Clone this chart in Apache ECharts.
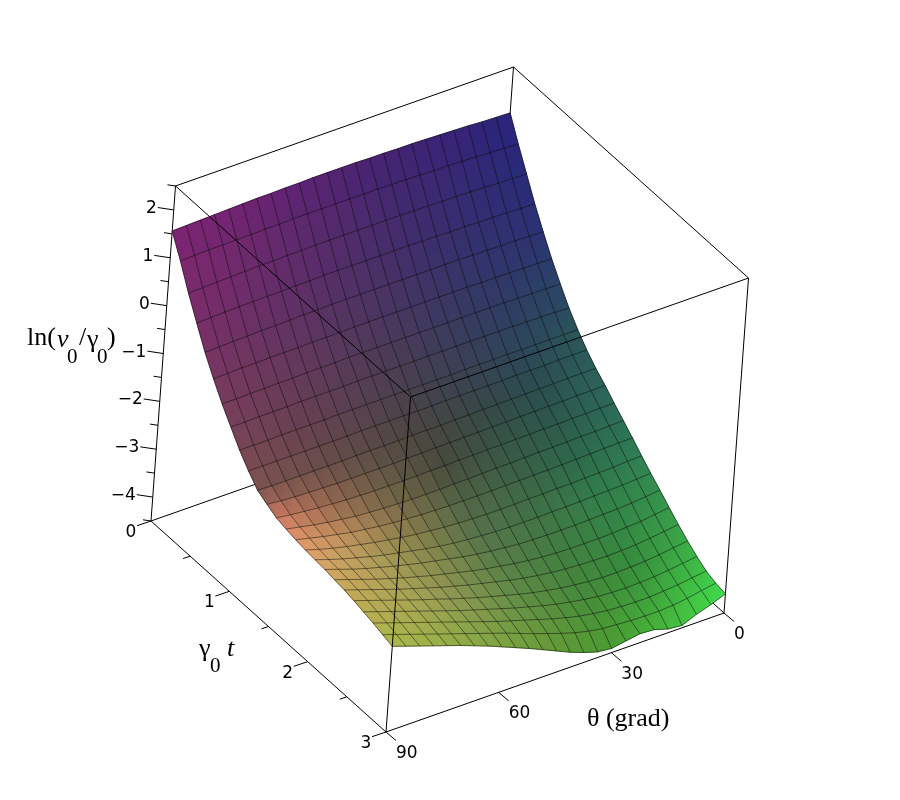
<!DOCTYPE html>
<html>
<head>
<meta charset="utf-8">
<title>ln(v0/gamma0) surface</title>
<script src="https://cdn.jsdelivr.net/npm/echarts@6/dist/echarts.min.js"></script>
<style>
  html, body { margin: 0; padding: 0; background: #fff; }
  #chart { width: 900px; height: 800px; }
</style>
</head>
<body>
<div id="chart"></div>
<script>
// grid of the surface
const tValues = [0, 0.125, 0.25, 0.375, 0.5, 0.625, 0.75, 0.875, 1, 1.125, 1.25, 1.375, 1.5, 1.625, 1.75, 1.875, 2, 2.125, 2.25, 2.375, 2.5, 2.625, 2.75, 2.875, 3];
const thetaValues = [90, 86.25, 82.5, 78.75, 75, 71.25, 67.5, 63.75, 60, 56.25, 52.5, 48.75, 45, 41.25, 37.5, 33.75, 30, 26.25, 22.5, 18.75, 15, 11.25, 7.5, 3.75, 0];

// ln(v0/gamma0): one row per t, one column per theta
const lnRatio = [
  [1.56, 1.57, 1.58, 1.59, 1.60, 1.61, 1.62, 1.62, 1.63, 1.63, 1.64, 1.64, 1.64, 1.64, 1.63, 1.63, 1.62, 1.62, 1.61, 1.60, 1.59, 1.58, 1.56, 1.55, 1.54],
  [1.12, 1.13, 1.14, 1.14, 1.15, 1.15, 1.16, 1.16, 1.17, 1.17, 1.17, 1.17, 1.17, 1.17, 1.17, 1.16, 1.16, 1.15, 1.14, 1.14, 1.13, 1.12, 1.10, 1.09, 1.07],
  [0.63, 0.64, 0.65, 0.66, 0.67, 0.68, 0.68, 0.69, 0.69, 0.70, 0.70, 0.70, 0.70, 0.70, 0.70, 0.70, 0.69, 0.69, 0.68, 0.68, 0.67, 0.66, 0.65, 0.64, 0.63],
  [0.19, 0.20, 0.21, 0.22, 0.22, 0.23, 0.23, 0.24, 0.24, 0.25, 0.25, 0.25, 0.25, 0.25, 0.25, 0.25, 0.24, 0.24, 0.23, 0.23, 0.22, 0.22, 0.21, 0.20, 0.19],
  [-0.24, -0.23, -0.22, -0.21, -0.20, -0.20, -0.19, -0.18, -0.18, -0.17, -0.17, -0.17, -0.17, -0.17, -0.17, -0.17, -0.17, -0.17, -0.17, -0.18, -0.18, -0.19, -0.19, -0.20, -0.21],
  [-0.61, -0.60, -0.59, -0.59, -0.58, -0.58, -0.58, -0.57, -0.57, -0.57, -0.56, -0.56, -0.56, -0.56, -0.56, -0.56, -0.56, -0.56, -0.56, -0.57, -0.57, -0.57, -0.58, -0.58, -0.59],
  [-0.95, -0.95, -0.94, -0.94, -0.93, -0.93, -0.92, -0.92, -0.92, -0.91, -0.91, -0.91, -0.91, -0.91, -0.91, -0.91, -0.91, -0.91, -0.91, -0.91, -0.91, -0.92, -0.92, -0.93, -0.93],
  [-1.25, -1.25, -1.24, -1.24, -1.24, -1.23, -1.23, -1.23, -1.23, -1.22, -1.22, -1.22, -1.22, -1.22, -1.22, -1.22, -1.22, -1.22, -1.22, -1.22, -1.22, -1.23, -1.23, -1.24, -1.25],
  [-1.55, -1.55, -1.55, -1.54, -1.54, -1.54, -1.54, -1.53, -1.53, -1.53, -1.53, -1.53, -1.53, -1.53, -1.53, -1.53, -1.52, -1.52, -1.52, -1.52, -1.52, -1.52, -1.52, -1.52, -1.52],
  [-1.80, -1.80, -1.80, -1.80, -1.80, -1.80, -1.80, -1.80, -1.79, -1.79, -1.79, -1.79, -1.79, -1.79, -1.78, -1.78, -1.78, -1.78, -1.78, -1.77, -1.77, -1.77, -1.76, -1.76, -1.76],
  [-2.02, -2.03, -2.03, -2.03, -2.03, -2.03, -2.03, -2.02, -2.02, -2.02, -2.02, -2.01, -2.01, -2.01, -2.00, -2.00, -1.99, -1.99, -1.98, -1.98, -1.97, -1.97, -1.96, -1.96, -1.96],
  [-2.13, -2.16, -2.18, -2.19, -2.20, -2.21, -2.21, -2.21, -2.21, -2.21, -2.20, -2.20, -2.19, -2.19, -2.18, -2.18, -2.17, -2.17, -2.16, -2.16, -2.15, -2.15, -2.14, -2.14, -2.13],
  [-2.23, -2.27, -2.30, -2.33, -2.35, -2.37, -2.38, -2.39, -2.39, -2.39, -2.39, -2.38, -2.38, -2.37, -2.37, -2.36, -2.36, -2.35, -2.35, -2.34, -2.34, -2.33, -2.33, -2.32, -2.32],
  [-2.28, -2.34, -2.40, -2.45, -2.49, -2.53, -2.55, -2.57, -2.58, -2.59, -2.59, -2.59, -2.58, -2.58, -2.57, -2.56, -2.56, -2.55, -2.54, -2.54, -2.53, -2.52, -2.52, -2.51, -2.50],
  [-2.32, -2.39, -2.46, -2.52, -2.58, -2.62, -2.66, -2.69, -2.71, -2.73, -2.74, -2.75, -2.75, -2.75, -2.75, -2.74, -2.74, -2.73, -2.73, -2.72, -2.71, -2.70, -2.69, -2.68, -2.68],
  [-2.35, -2.44, -2.52, -2.59, -2.65, -2.71, -2.76, -2.81, -2.85, -2.88, -2.91, -2.93, -2.94, -2.95, -2.95, -2.95, -2.94, -2.94, -2.93, -2.93, -2.92, -2.91, -2.90, -2.88, -2.87],
  [-2.37, -2.47, -2.56, -2.64, -2.72, -2.79, -2.85, -2.91, -2.97, -3.02, -3.06, -3.09, -3.11, -3.13, -3.14, -3.14, -3.14, -3.13, -3.13, -3.12, -3.11, -3.10, -3.09, -3.07, -3.05],
  [-2.39, -2.49, -2.59, -2.68, -2.76, -2.84, -2.91, -2.98, -3.04, -3.10, -3.16, -3.21, -3.25, -3.28, -3.31, -3.32, -3.33, -3.33, -3.33, -3.32, -3.31, -3.30, -3.28, -3.25, -3.22],
  [-2.42, -2.52, -2.62, -2.72, -2.81, -2.90, -2.98, -3.06, -3.13, -3.20, -3.27, -3.33, -3.38, -3.43, -3.47, -3.50, -3.52, -3.53, -3.53, -3.53, -3.52, -3.50, -3.48, -3.44, -3.40],
  [-2.45, -2.55, -2.65, -2.75, -2.85, -2.94, -3.03, -3.12, -3.20, -3.28, -3.35, -3.42, -3.49, -3.55, -3.60, -3.64, -3.67, -3.69, -3.70, -3.71, -3.70, -3.68, -3.65, -3.61, -3.57],
  [-2.49, -2.59, -2.69, -2.79, -2.89, -2.99, -3.08, -3.18, -3.27, -3.36, -3.44, -3.52, -3.60, -3.67, -3.73, -3.78, -3.82, -3.85, -3.87, -3.87, -3.86, -3.84, -3.81, -3.77, -3.73],
  [-2.54, -2.64, -2.74, -2.84, -2.94, -3.04, -3.14, -3.24, -3.33, -3.42, -3.51, -3.60, -3.68, -3.76, -3.83, -3.89, -3.94, -3.98, -4.00, -4.01, -4.00, -3.98, -3.95, -3.91, -3.87],
  [-2.59, -2.69, -2.79, -2.89, -2.99, -3.09, -3.19, -3.29, -3.39, -3.49, -3.58, -3.67, -3.76, -3.85, -3.93, -4.00, -4.05, -4.09, -4.11, -4.12, -4.12, -4.10, -4.07, -4.03, -3.99],
  [-2.65, -2.75, -2.85, -2.95, -3.05, -3.15, -3.25, -3.35, -3.45, -3.55, -3.66, -3.77, -3.87, -3.97, -4.06, -4.13, -4.18, -4.20, -4.22, -4.23, -4.23, -4.21, -4.17, -4.11, -4.06],
  [-2.71, -2.81, -2.91, -3.01, -3.11, -3.21, -3.32, -3.43, -3.55, -3.67, -3.79, -3.92, -4.05, -4.18, -4.29, -4.38, -4.41, -4.36, -4.31, -4.33, -4.42, -4.45, -4.32, -4.22, -4.10]
];

// axis ticks
const zMajorTicks = [2, 1, 0, -1, -2, -3, -4];
const zMinorTicks = [2.5, 1.5, 0.5, -0.5, -1.5, -2.5, -3.5, -4.5];
const tMajorTicks = [0, 1, 2, 3];
const tMinorTicks = [0.5, 1.5, 2.5];
const thetaMajorTicks = [90, 60, 30, 0];

// box as it lands on the page: one corner and the three edge vectors
const boxOrigin = [151, 521];
const tEdge = [235, 211];
const thetaEdge = [338, -119];
const zEdge = [24.5, -335];
const tRange = [0, 3], thetaRange = [90, 0], zRange = [-4.5, 2.5];

function project(t, theta, z) {
  const a = (t - tRange[0]) / (tRange[1] - tRange[0]);
  const b = (theta - thetaRange[0]) / (thetaRange[1] - thetaRange[0]);
  const c = (z - zRange[0]) / (zRange[1] - zRange[0]);
  return [
    boxOrigin[0] + a * tEdge[0] + b * thetaEdge[0] + c * zEdge[0],
    boxOrigin[1] + a * tEdge[1] + b * thetaEdge[1] + c * zEdge[1]
  ];
}

// shading of the surface, sampled by eye on a coarse mesh of the grid indices
const shadeRows = [0, 4, 8, 10, 12, 14, 16, 20, 24];
const shadeCols = [0, 4, 8, 12, 16, 20, 24];
const shadeTable = [
  ['#7d2373', '#732373', '#5f2373', '#502373', '#412373', '#372378', '#28237d'],
  ['#783264', '#693264', '#5a3264', '#4b3264', '#3c3269', '#32326e', '#2a3273'],
  ['#784655', '#694150', '#5a4150', '#48414e', '#3a4155', '#2d465a', '#2a555a'],
  ['#7d5550', '#6e504b', '#5a4b46', '#484641', '#374846', '#2a4e50', '#2d5f5a'],
  ['#d27d64', '#966950', '#695f46', '#484b3c', '#375546', '#2d5a4b', '#2d695a'],
  ['#e19669', '#b98c5a', '#82734b', '#506446', '#3c6446', '#2d694b', '#2d7855'],
  ['#dca569', '#af9b5a', '#87874b', '#55734b', '#417346', '#327d4b', '#328750'],
  ['#beaa55', '#aaa555', '#879650', '#5f8c46', '#46873c', '#378c3c', '#3caa46'],
  ['#aab94b', '#96af46', '#7da541', '#649b37', '#4b9b32', '#46b93c', '#41dc4b']
];

function hexToRgb(hex) {
  return [parseInt(hex.slice(1, 3), 16), parseInt(hex.slice(3, 5), 16), parseInt(hex.slice(5, 7), 16)];
}
function bracket(list, v) {
  let n = 0;
  while (n < list.length - 2 && list[n + 1] < v) n++;
  return [n, (v - list[n]) / (list[n + 1] - list[n])];
}
function nodeRgb(i, k) {
  const [r, fr] = bracket(shadeRows, i);
  const [c, fc] = bracket(shadeCols, k);
  const a = hexToRgb(shadeTable[r][c]), b = hexToRgb(shadeTable[r][c + 1]);
  const d = hexToRgb(shadeTable[r + 1][c]), e = hexToRgb(shadeTable[r + 1][c + 1]);
  return [0, 1, 2].map(n => (a[n] * (1 - fc) + b[n] * fc) * (1 - fr) + (d[n] * (1 - fc) + e[n] * fc) * fr);
}
function cssRgb(rgb) {
  return 'rgb(' + rgb.map(Math.round).join(',') + ')';
}

// far cells first
const cellData = [];
for (let i = 0; i < tValues.length - 1; i++) {
  for (let k = thetaValues.length - 2; k >= 0; k--) cellData.push([i, k]);
}

function nodePoint(api, i, k) {
  return api.coord(project(tValues[i], thetaValues[k], lnRatio[i][k]));
}

function renderCell(params, api) {
  const i = api.value(0), k = api.value(1);
  const p00 = nodePoint(api, i, k), p01 = nodePoint(api, i, k + 1);
  const p11 = nodePoint(api, i + 1, k + 1), p10 = nodePoint(api, i + 1, k);
  const side1 = nodeRgb(i, k + 1), side2 = nodeRgb(i + 1, k);
  const gradient = new echarts.graphic.LinearGradient(p00[0], p00[1], p11[0], p11[1], [
    { offset: 0, color: cssRgb(nodeRgb(i, k)) },
    { offset: 0.5, color: cssRgb(side1.map((v, n) => (v + side2[n]) / 2)) },
    { offset: 1, color: cssRgb(nodeRgb(i + 1, k + 1)) }
  ], true);
  return {
    type: 'polygon',
    shape: { points: [p00, p01, p11, p10] },
    style: { fill: gradient, stroke: gradient, lineWidth: 0.8 },
    silent: true
  };
}

// mesh lines
const meshSeries = [];
function meshLine(points) {
  meshSeries.push({
    type: 'line', data: points, showSymbol: false, silent: true, clip: false, z: 4, animation: false,
    lineStyle: { color: '#000', width: 0.9, opacity: 0.55 }
  });
}
tValues.forEach((t, i) => meshLine(thetaValues.map((th, k) => project(t, th, lnRatio[i][k]))));
thetaValues.forEach((th, k) => meshLine(tValues.map((t, i) => project(t, th, lnRatio[i][k]))));

function boxEdge(a, b, z) {
  return {
    type: 'line', data: [project(a[0], a[1], a[2]), project(b[0], b[1], b[2])],
    showSymbol: false, silent: true, clip: false, z: z, animation: false,
    lineStyle: { color: '#000', width: 1 }
  };
}
const behind = 1, front = 6;
const boxSeries = [
  // hidden by the surface
  boxEdge([0, 90, -4.5], [0, 0, -4.5], behind),
  boxEdge([0, 0, -4.5], [3, 0, -4.5], behind),
  boxEdge([0, 0, -4.5], [0, 0, 2.5], behind),
  boxEdge([0, 90, 2.5], [0, 0, 2.5], behind),
  boxEdge([0, 0, 2.5], [3, 0, 2.5], behind),
  boxEdge([0, 90, -4.5], [0, 90, 2.5], behind),
  boxEdge([3, 0, -4.5], [3, 0, 2.5], behind),
  // over the surface
  boxEdge([0, 90, 2.5], [3, 90, 2.5], front),
  boxEdge([3, 90, 2.5], [3, 0, 2.5], front),
  boxEdge([3, 90, -4.5], [3, 90, 2.5], front),
  boxEdge([0, 90, -4.5], [3, 90, -4.5], front),
  boxEdge([3, 90, -4.5], [3, 0, -4.5], front)
];

// tick marks and tick labels
const tickData = [];
zMajorTicks.forEach(v => tickData.push(['z', v, 1]));
zMinorTicks.forEach(v => tickData.push(['z', v, 0]));
tMajorTicks.forEach(v => tickData.push(['t', v, 1]));
tMinorTicks.forEach(v => tickData.push(['t', v, 0]));
thetaMajorTicks.forEach(v => tickData.push(['theta', v, 1]));

const tickLook = {
  z: { dir: [-16, -2.4], off: [-1, 1], align: 'right' },
  t: { dir: [-14, 4.7], off: [-6, 7], align: 'center' },
  theta: { dir: [10, 8.5], off: [0, 13], align: 'left' }
};
const labelFont = '17px "DejaVu Sans"';

function renderTick(params, api) {
  const item = tickData[params.dataIndex];
  const kind = item[0], v = item[1], major = item[2];
  const base = kind === 'z' ? project(0, 90, v) : kind === 't' ? project(v, 90, -4.5) : project(3, v, -4.5);
  const look = tickLook[kind];
  const len = major ? 1 : 0.5;
  const end = [base[0] + look.dir[0] * len, base[1] + look.dir[1] * len];
  const a = api.coord(base), b = api.coord(end);
  const children = [{
    type: 'line',
    shape: { x1: a[0], y1: a[1], x2: b[0], y2: b[1] },
    style: { stroke: '#000', lineWidth: 1 }
  }];
  if (major) {
    children.push({
      type: 'text',
      x: b[0] + look.off[0], y: b[1] + look.off[1],
      style: {
        text: String(v).replace('-', '\u2212'), font: labelFont, fill: '#000',
        align: look.align, verticalAlign: 'middle'
      }
    });
  }
  return { type: 'group', children: children };
}

// axis titles, set piece by piece for the lowered subscripts
const serifFont = '26px "Liberation Serif"';
const italicFont = 'italic 26px "Liberation Serif"';
const subFont = '21px "Liberation Serif"';
const titlePieces = [
  ['ln(', 27, 338, serifFont], ['v', 57, 340, italicFont], ['0', 67, 357, subFont],
  ['/', 79, 338, serifFont], ['\u03b3', 87, 340, serifFont], ['0', 97, 357, subFont], [')', 107, 338, serifFont],
  ['\u03b3', 199, 649, serifFont], ['0', 210, 666, subFont], ['t', 227, 649, italicFont],
  ['\u03b8 (grad)', 587, 719, serifFont]
];

const chart = echarts.init(document.getElementById('chart'), null, { renderer: 'canvas' });
chart.setOption({
  animation: false,
  backgroundColor: '#fff',
  grid: { left: 0, right: 0, top: 0, bottom: 0 },
  xAxis: { type: 'value', min: 0, max: 900, show: false },
  yAxis: { type: 'value', min: 0, max: 800, inverse: true, show: false },
  graphic: titlePieces.map(p => ({
    type: 'text', x: p[1], y: p[2], z: 10,
    style: { text: p[0], font: p[3], fill: '#000', align: 'left', verticalAlign: 'middle' }
  })),
  series: boxSeries.concat([
    {
      type: 'custom', data: cellData, renderItem: renderCell, z: 2, clip: false, silent: true,
      encode: { x: 0, y: 1 }, progressive: 0, animation: false
    },
    {
      type: 'custom', data: tickData.map((d, n) => [n, n]), renderItem: renderTick, z: 7, clip: false, silent: true,
      encode: { x: 0, y: 1 }, animation: false
    }
  ], meshSeries)
});
</script>
</body>
</html>
